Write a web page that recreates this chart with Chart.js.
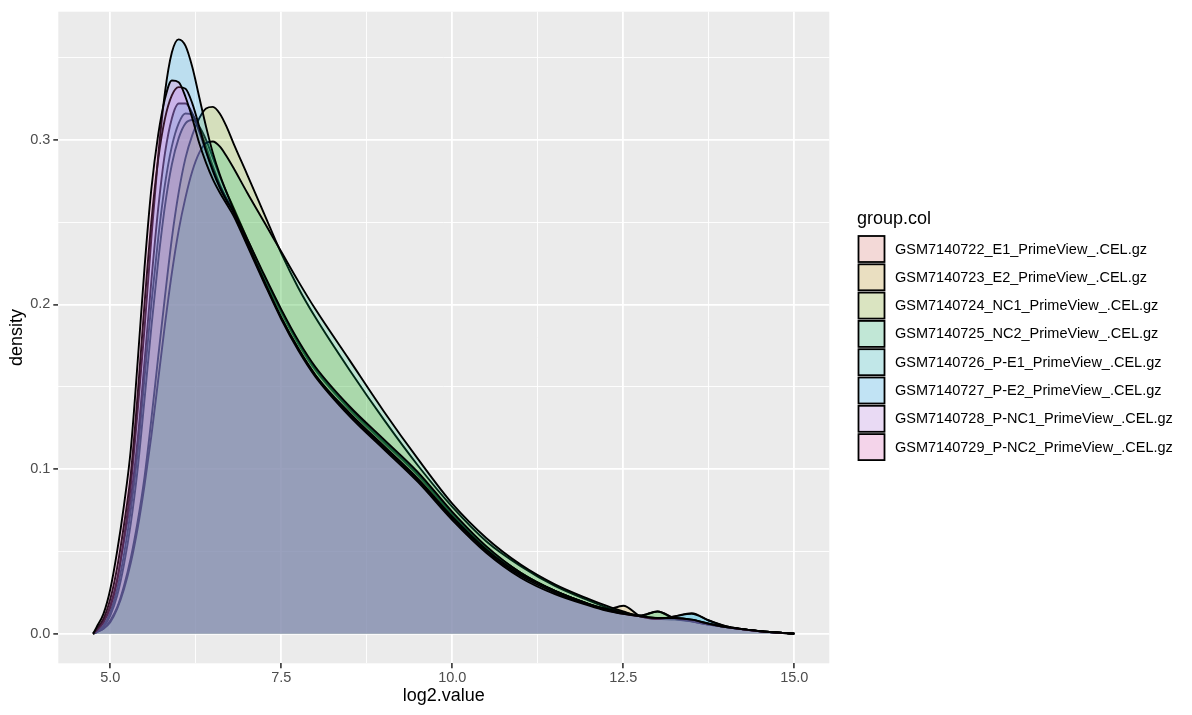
<!DOCTYPE html>
<html>
<head>
<meta charset="utf-8">
<title>density</title>
<script src="https://cdn.jsdelivr.net/npm/chart.js@4.4.1/dist/chart.umd.min.js"></script>
<style>
  html, body { margin: 0; padding: 0; background: #ffffff; }
  #wrap { width: 1192px; height: 715px; position: relative; }
</style>
</head>
<body>
<div id="wrap"><canvas id="myChart"></canvas></div>
<script>
// valores (log2.value -> density)
const xGrid = [4.75, 4.8, 4.9, 5.0, 5.1, 5.2, 5.3, 5.4, 5.5, 5.6, 5.7, 5.8, 5.9, 6.0, 6.1, 6.2, 6.3, 6.4, 6.5, 6.6, 6.7, 6.8,
  7.0, 7.25, 7.5, 7.75, 8.0, 8.5, 9.0, 9.5, 10.0, 10.5, 11.0, 11.5, 12.0, 12.25, 12.5, 12.75, 13.0, 13.25, 13.5, 13.75, 14.0, 14.5, 15.0];

const groups = [
  "GSM7140722_E1_PrimeView_.CEL.gz",
  "GSM7140723_E2_PrimeView_.CEL.gz",
  "GSM7140724_NC1_PrimeView_.CEL.gz",
  "GSM7140725_NC2_PrimeView_.CEL.gz",
  "GSM7140726_P-E1_PrimeView_.CEL.gz",
  "GSM7140727_P-E2_PrimeView_.CEL.gz",
  "GSM7140728_P-NC1_PrimeView_.CEL.gz",
  "GSM7140729_P-NC2_PrimeView_.CEL.gz"
];

const dE1 = [0, 0.001, 0.005, 0.013, 0.027, 0.048, 0.075, 0.11, 0.155, 0.2, 0.24, 0.273, 0.296, 0.31, 0.316, 0.315, 0.307, 0.296, 0.284, 0.273, 0.264, 0.256,
  0.239, 0.216, 0.195, 0.176, 0.16, 0.136, 0.116, 0.096, 0.072, 0.052, 0.037, 0.026, 0.018, 0.015, 0.0125, 0.0105, 0.0095, 0.009, 0.008, 0.006, 0.004, 0.0015, 0];
const dE2 = [0, 0.001, 0.004, 0.011, 0.023, 0.042, 0.067, 0.1, 0.142, 0.186, 0.226, 0.26, 0.285, 0.301, 0.31, 0.312, 0.308, 0.3, 0.289, 0.278, 0.268, 0.259,
  0.24, 0.217, 0.196, 0.177, 0.161, 0.137, 0.117, 0.097, 0.073, 0.052, 0.037, 0.026, 0.018, 0.0145, 0.017, 0.0105, 0.009, 0.0085, 0.0075, 0.0055, 0.004, 0.0015, 0];
const dNC1 = [0, 0.001, 0.003, 0.008, 0.016, 0.029, 0.046, 0.068, 0.095, 0.13, 0.168, 0.205, 0.24, 0.268, 0.289, 0.303, 0.313, 0.319, 0.32, 0.316, 0.308, 0.298,
  0.279, 0.255, 0.231, 0.21, 0.192, 0.16, 0.13, 0.102, 0.077, 0.056, 0.041, 0.029, 0.02, 0.016, 0.013, 0.011, 0.0135, 0.009, 0.0075, 0.0055, 0.004, 0.0015, 0];
const dNC2 = [0, 0.001, 0.003, 0.007, 0.015, 0.027, 0.043, 0.064, 0.09, 0.12, 0.154, 0.188, 0.219, 0.245, 0.265, 0.281, 0.292, 0.298, 0.299, 0.296, 0.29, 0.283,
  0.268, 0.25, 0.232, 0.214, 0.197, 0.166, 0.135, 0.106, 0.079, 0.058, 0.042, 0.03, 0.021, 0.017, 0.0135, 0.011, 0.0135, 0.0095, 0.0075, 0.0055, 0.004, 0.0015, 0];
const dPE1 = [0, 0.002, 0.007, 0.017, 0.033, 0.056, 0.082, 0.118, 0.165, 0.214, 0.258, 0.292, 0.313, 0.322, 0.322, 0.316, 0.305, 0.293, 0.282, 0.272, 0.264, 0.257,
  0.24, 0.218, 0.197, 0.178, 0.162, 0.138, 0.118, 0.098, 0.074, 0.053, 0.037, 0.026, 0.018, 0.015, 0.0125, 0.0105, 0.009, 0.0105, 0.0125, 0.008, 0.0045, 0.0015, 0];
const dPE2 = [0, 0.002, 0.007, 0.016, 0.032, 0.058, 0.09, 0.135, 0.185, 0.24, 0.29, 0.329, 0.353, 0.361, 0.357, 0.344, 0.326, 0.308, 0.292, 0.279, 0.268, 0.258,
  0.238, 0.214, 0.192, 0.173, 0.157, 0.134, 0.114, 0.094, 0.071, 0.051, 0.036, 0.026, 0.018, 0.015, 0.0125, 0.0105, 0.009, 0.0105, 0.012, 0.008, 0.0045, 0.0015, 0];
const dPNC1 = [0, 0.003, 0.009, 0.021, 0.04, 0.066, 0.097, 0.145, 0.2, 0.25, 0.288, 0.313, 0.327, 0.332, 0.331, 0.322, 0.308, 0.293, 0.281, 0.271, 0.263, 0.256,
  0.237, 0.214, 0.192, 0.173, 0.157, 0.133, 0.113, 0.093, 0.07, 0.05, 0.035, 0.025, 0.0175, 0.0145, 0.012, 0.0105, 0.0095, 0.0095, 0.0085, 0.006, 0.004, 0.0015, 0];
const dPNC2 = [0, 0.004, 0.012, 0.027, 0.05, 0.078, 0.112, 0.165, 0.222, 0.27, 0.303, 0.325, 0.336, 0.335, 0.326, 0.313, 0.298, 0.286, 0.276, 0.268, 0.261, 0.254,
  0.236, 0.213, 0.191, 0.172, 0.156, 0.132, 0.112, 0.092, 0.069, 0.049, 0.034, 0.024, 0.017, 0.014, 0.012, 0.0105, 0.0095, 0.0095, 0.0085, 0.006, 0.004, 0.0015, 0];

const seriesValues = [dE1, dE2, dNC1, dNC2, dPE1, dPE2, dPNC1, dPNC2];
const groupColors = ["#F8766D", "#CD9600", "#7CAE00", "#00BE67", "#00BFC4", "#00A9FF", "#C77CFF", "#FF61CC"];

const xTickValues = [5, 7.5, 10, 12.5, 15];
const xTickLabels = ["5.0", "7.5", "10.0", "12.5", "15.0"];
const yTickValues = [0, 0.1, 0.2, 0.3];
const yTickLabels = ["0.0", "0.1", "0.2", "0.3"];

const FONT = "'Liberation Sans', Arial, Helvetica, sans-serif";

function hexAlpha(hex, a) {
    const n = parseInt(hex.slice(1), 16);
    return "rgba(" + (n >> 16) + "," + ((n >> 8) & 255) + "," + (n & 255) + "," + a + ")";
}

// linhas principais + secundárias (pontos médios), como no ggplot
function withMinor(major, min, max) {
    const step = major[1] - major[0];
    const all = [];
    for (let i = -1; i < major.length; i++) {
        const m = (i < 0 ? major[0] - step / 2 : major[i] + step / 2);
        if (i >= 0) all.push({ value: major[i], major: true });
        if (m >= min && m <= max) all.push({ value: m, major: false });
    }
    return all.sort((a, b) => a.value - b.value);
}

const isMajor = (ctx) => ctx.tick && ctx.tick.major;

// fundo cinza do painel
const panelBg = {
    id: "panelBg",
    beforeDraw(chart) {
        const a = chart.chartArea;
        const c = chart.ctx;
        c.save();
        c.fillStyle = "#EBEBEB";
        c.fillRect(a.left, a.top, a.right - a.left, a.bottom - a.top);
        c.restore();
    }
};

// legenda desenhada à direita
const sideLegend = {
    id: "sideLegend",
    afterDraw(chart) {
        const c = chart.ctx;
        c.save();
        c.fillStyle = "#000000";
        c.font = "18px " + FONT;
        c.textBaseline = "middle";
        c.textAlign = "left";
        c.fillText("group.col", 857, 219);
        c.font = "14.5px " + FONT;
        groups.forEach((g, i) => {
            const top = 236 + i * 28.3;
            c.fillStyle = "#F2F2F2";
            c.fillRect(858.5, top, 26, 26);
            c.fillStyle = hexAlpha(groupColors[i], 0.2);
            c.fillRect(858.5, top, 26, 26);
            c.strokeStyle = "#000000";
            c.lineWidth = 1.8;
            c.strokeRect(858.5, top, 26, 26);
            c.fillStyle = "#000000";
            c.fillText(g, 895, top + 13.5);
        });
        c.restore();
    }
};

const datasets = groups.map((g, i) => ({
    label: g,
    data: xGrid.map((x, k) => ({ x: x, y: seriesValues[i][k] })),
    borderColor: "#000000",
    borderWidth: 1.9,
    backgroundColor: hexAlpha(groupColors[i], 0.2),
    fill: "origin",
    pointRadius: 0,
    cubicInterpolationMode: "monotone",
    order: groups.length - 1 - i
}));

const Grafico = document.getElementById("myChart");
new Chart(Grafico, {
    type: "line",
    data: { datasets: datasets },
    options: {
        responsive: true,
        maintainAspectRatio: false,
        animation: false,
        layout: { padding: { left: 0, top: 8.3, right: 362.7, bottom: 0 } },
        plugins: {
            legend: { display: false },
            tooltip: { enabled: false }
        },
        scales: {
            x: {
                type: "linear",
                min: 4.24,
                max: 15.512,
                afterBuildTicks: (s) => { s.ticks = withMinor(xTickValues, s.min, s.max); },
                afterFit: (s) => { s.height = 51.7; },
                border: { display: false },
                grid: {
                    color: "#FFFFFF",
                    lineWidth: (ctx) => isMajor(ctx) ? 1.8 : 0.9,
                    tickColor: (ctx) => isMajor(ctx) ? "#333333" : "rgba(0,0,0,0)",
                    tickWidth: 1.6,
                    tickLength: 5
                },
                ticks: {
                    autoSkip: false,
                    maxRotation: 0,
                    padding: 1,
                    color: "#4D4D4D",
                    font: { family: FONT, size: 14.5 },
                    callback: (v) => {
                        const k = xTickValues.indexOf(v);
                        return k >= 0 ? xTickLabels[k] : "";
                    }
                },
                title: {
                    display: true,
                    text: "log2.value",
                    color: "#000000",
                    font: { family: FONT, size: 18 },
                    padding: { top: 0, bottom: 8 }
                }
            },
            y: {
                type: "linear",
                min: -0.018,
                max: 0.3778,
                afterBuildTicks: (s) => { s.ticks = withMinor(yTickValues, s.min, s.max); },
                afterFit: (s) => { s.width = 58.3; },
                border: { display: false },
                grid: {
                    color: "#FFFFFF",
                    lineWidth: (ctx) => isMajor(ctx) ? 1.8 : 0.9,
                    tickColor: (ctx) => isMajor(ctx) ? "#333333" : "rgba(0,0,0,0)",
                    tickWidth: 1.6,
                    tickLength: 5
                },
                ticks: {
                    autoSkip: false,
                    padding: 3,
                    color: "#4D4D4D",
                    font: { family: FONT, size: 14.5 },
                    callback: (v) => {
                        const k = yTickValues.findIndex(t => Math.abs(t - v) < 1e-9);
                        return k >= 0 ? yTickLabels[k] : "";
                    }
                },
                title: {
                    display: true,
                    text: "density",
                    color: "#000000",
                    font: { family: FONT, size: 18 },
                    padding: { top: 6, bottom: 0 }
                }
            }
        }
    },
    plugins: [panelBg, sideLegend]
});
</script>
</body>
</html>
